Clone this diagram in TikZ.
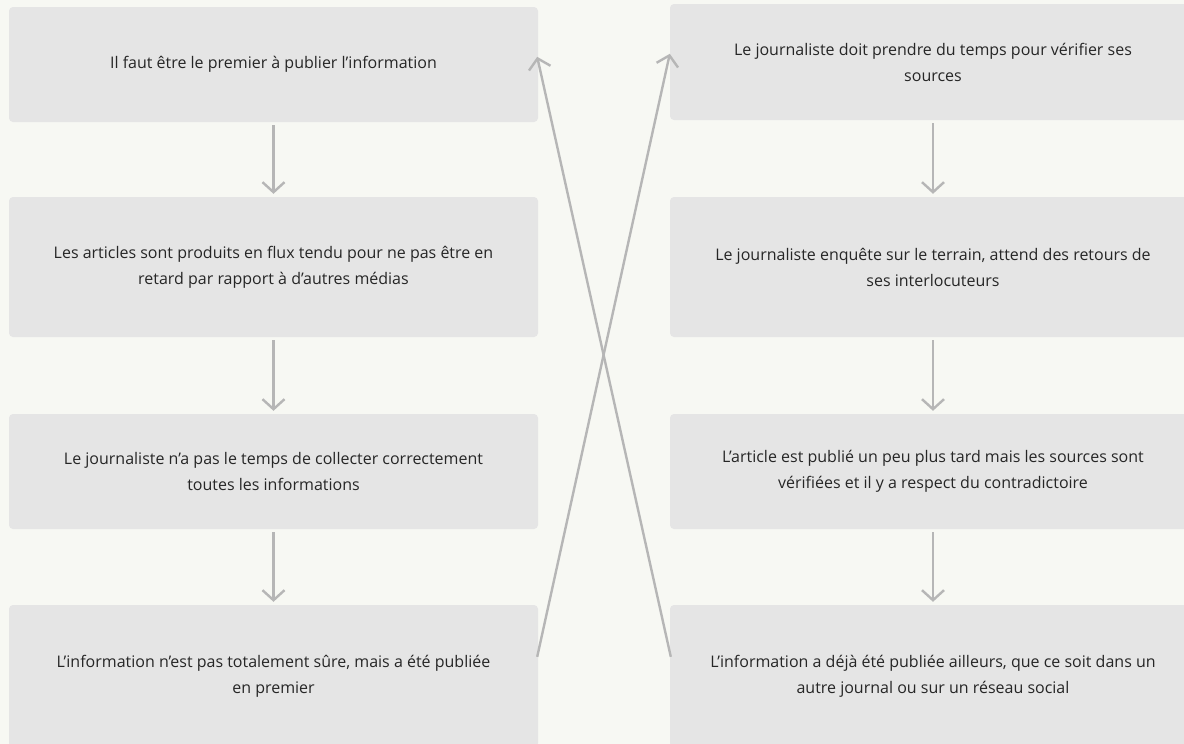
\documentclass[tikz,border=0pt]{standalone}
\usepackage{fontspec}
\setmainfont{Open Sans}
\usetikzlibrary{arrows.meta,calc}
\definecolor{bgc}{HTML}{F7F8F3}
\definecolor{boxc}{HTML}{E5E5E5}
\definecolor{linec}{HTML}{B6B6B6}
\definecolor{txtc}{HTML}{262626}
\tikzset{
  stepbox/.style={rectangle, rounded corners=4pt, fill=boxc, draw=none,
    inner sep=0pt, align=center, text=txtc,
    font=\fontsize{16}{26}\selectfont},
  lbox/.style={stepbox, minimum width=529pt},
  rbox/.style={stepbox, minimum width=526pt},
  arr/.style={draw=linec, line width=2.4pt,
    -{Straight Barb[length=10pt,width=22pt,line width=2.4pt]}},
}
\begin{document}
\begin{tikzpicture}[x=1pt,y=-1pt]
\clip (0,0) rectangle (1184,744);
\fill[bgc] (0,0) rectangle (1184,744);
% left column
\node[lbox, minimum height=115pt] (L1) at (273.5,64.5) {Il faut être le premier à publier l’information};
\node[lbox, minimum height=140pt] (L2) at (273.5,267) {Les articles sont produits en flux tendu pour ne pas être en\\retard par rapport à d’autres médias};
\node[lbox, minimum height=115pt] (L3) at (273.5,471.5) {Le journaliste n’a pas le temps de collecter correctement\\toutes les informations};
\node[lbox, minimum height=142pt] (L4) at (273.5,676) {L’information n’est pas totalement sûre, mais a été publiée\\en premier};
% right column
\node[rbox, minimum height=116pt] (R1) at (933,62) {Le journaliste doit prendre du temps pour vérifier ses\\sources};
\node[rbox, minimum height=140pt] (R2) at (933,267) {Le journaliste enquête sur le terrain, attend des retours de\\ses interlocuteurs};
\node[rbox, minimum height=115pt] (R3) at (933,471.5) {L’article est publié un peu plus tard mais les sources sont\\vérifiées et il y a respect du contradictoire};
\node[rbox, minimum height=142pt] (R4) at (933,676) {L’information a déjà été publiée ailleurs, que ce soit dans un\\autre journal ou sur un réseau social};
% vertical arrows
\draw[arr, shorten <=3pt, shorten >=3pt] (L1) -- (L2);
\draw[arr, shorten <=3pt, shorten >=3pt] (L2) -- (L3);
\draw[arr, shorten <=3pt, shorten >=3pt] (L3) -- (L4);
\draw[arr, shorten <=3pt, shorten >=3pt] (R1) -- (R2);
\draw[arr, shorten <=3pt, shorten >=3pt] (R2) -- (R3);
\draw[arr, shorten <=3pt, shorten >=3pt] (R3) -- (R4);
% crossing arrows
\draw[arr] ($(L4.north east)+(-1,52)$) -- ($(R1.north west)+(0,50)$);
\draw[arr] ($(R4.north west)+(1,52)$) -- ($(L1.north east)+(-1,50)$);
\end{tikzpicture}
\end{document}
